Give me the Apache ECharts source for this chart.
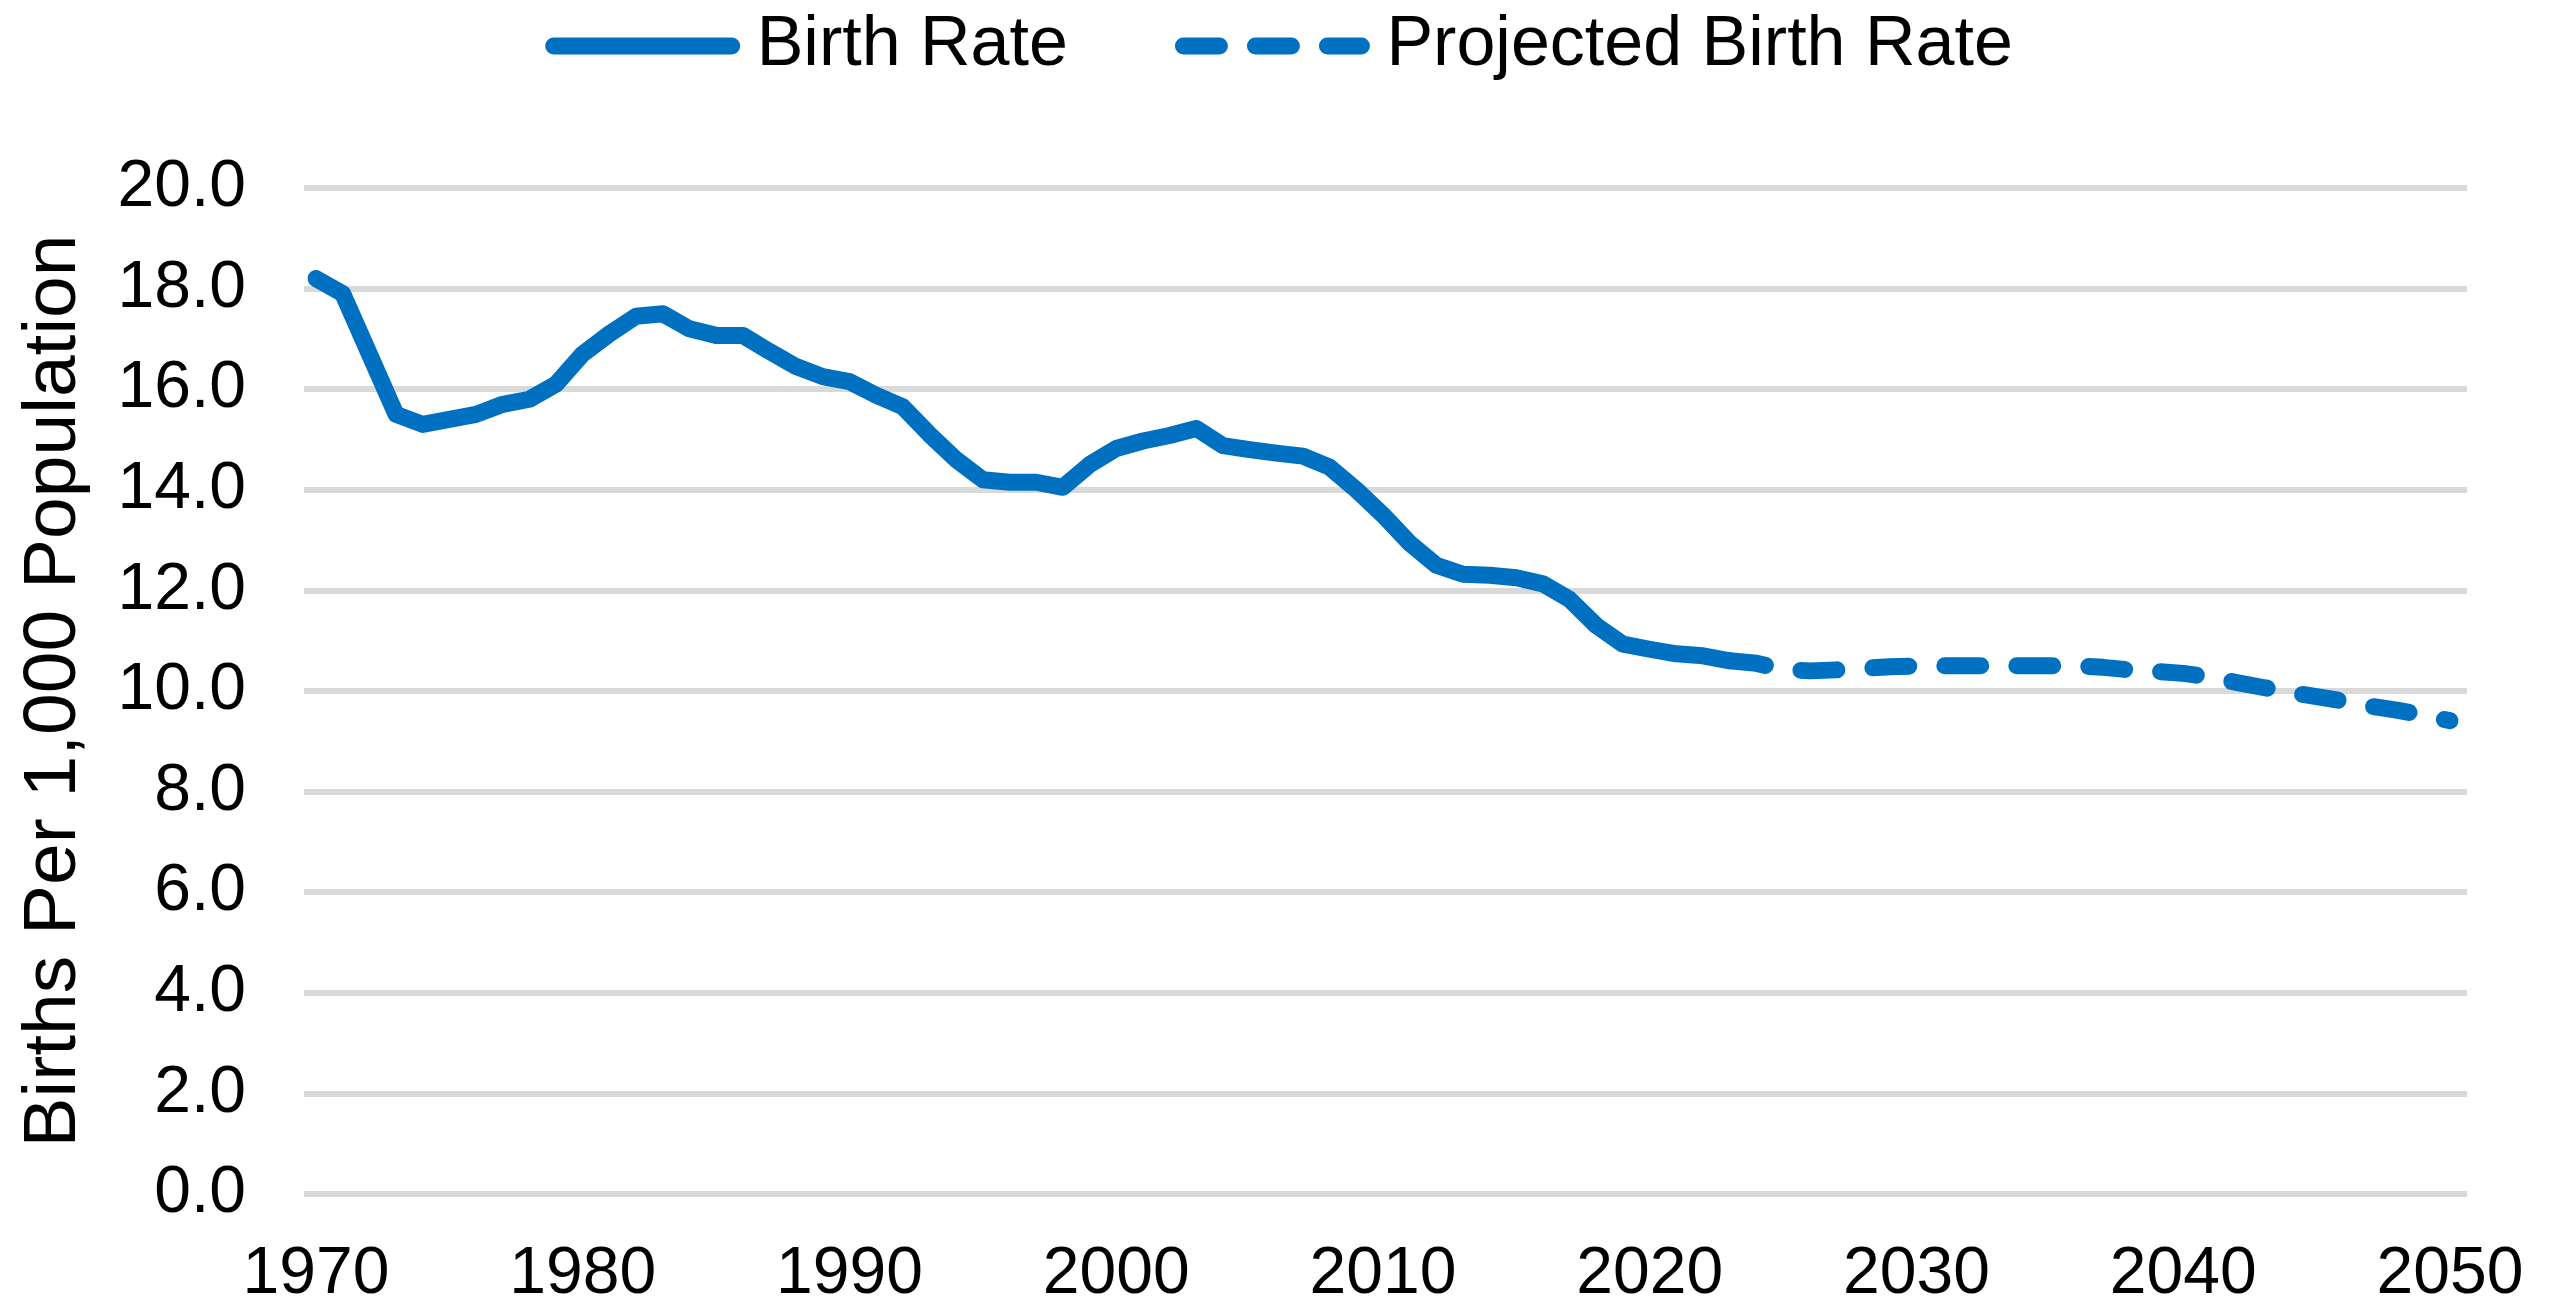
<!DOCTYPE html>
<html>
<head>
<meta charset="utf-8">
<style>
html,body{margin:0;padding:0;background:#fff;}
#chart{width:2558px;height:1308px;}
</style>
<script src="https://cdn.jsdelivr.net/npm/echarts@6/dist/echarts.min.js"></script>
</head>
<body>
<div id="chart"></div>
<script>
var actualYears = [1970,1971,1972,1973,1974,1975,1976,1977,1978,1979,1980,1981,1982,1983,1984,1985,1986,1987,1988,1989,1990,1991,1992,1993,1994,1995,1996,1997,1998,1999,2000,2001,2002,2003,2004,2005,2006,2007,2008,2009,2010,2011,2012,2013,2014,2015,2016,2017,2018,2019,2020,2021,2022,2023];
var birthRate = [18.2,17.9,16.7,15.5,15.3,15.4,15.5,15.7,15.8,16.1,16.7,17.1,17.45,17.5,17.2,17.07,17.07,16.75,16.45,16.25,16.15,15.88,15.65,15.1,14.6,14.2,14.15,14.15,14.05,14.5,14.82,14.97,15.08,15.22,14.88,14.8,14.73,14.67,14.45,14.0,13.5,12.94,12.5,12.32,12.3,12.25,12.13,11.82,11.3,10.93,10.83,10.74,10.7,10.6];
var projYears = [2023,2024,2025,2026,2027,2028,2029,2030,2031,2032,2033,2034,2035,2036,2037,2038,2039,2040,2041,2042,2043,2044,2045,2046,2047,2048,2049,2050];
var projRate = [10.6,10.55,10.43,10.4,10.42,10.45,10.48,10.5,10.5,10.5,10.5,10.5,10.5,10.5,10.47,10.42,10.39,10.35,10.28,10.17,10.07,9.97,9.89,9.8,9.7,9.62,9.52,9.41];
var xTickLabels = [1970,1980,1990,2000,2010,2020,2030,2040,2050];
var yTicks = [0,2,4,6,8,10,12,14,16,18,20];

function pairs(xs, ys){ return xs.map(function(x,i){ return [x, ys[i]]; }); }

var FONT = '"Liberation Sans", Arial, sans-serif';
var BLUE = '#0070C0';
var chart = echarts.init(document.getElementById('chart'), null, {renderer:'canvas'});
chart.setOption({
  animation:false,
  backgroundColor:'#fff',
  legend:{
    top:6,
    left:'center',
    itemWidth:178,
    itemHeight:30,
    itemGap:107,
    itemStyle:{opacity:0},
    lineStyle:{width:17,cap:'round'},
    textStyle:{fontFamily:FONT,fontSize:70,color:'#000',padding:[0,0,0,20]},
    data:['Birth Rate','Projected Birth Rate']
  },
  grid:{left:304,right:2558-2467,top:188,bottom:1308-1198,containLabel:false},
  xAxis:{
    type:'value',
    min:1969.55,
    max:2050.64,
    splitLine:{show:false},
    axisLine:{show:false},
    axisTick:{show:false},
    axisLabel:{
      customValues:xTickLabels,
      formatter:function(v){return String(v);},
      fontFamily:FONT,fontSize:66,color:'#000',margin:48
    }
  },
  yAxis:{
    type:'value',
    min:yTicks[0],
    max:yTicks[yTicks.length-1],
    interval:2,
    name:'Births Per 1,000 Population',
    nameLocation:'middle',
    nameGap:212,
    nameTextStyle:{fontFamily:FONT,fontSize:75,color:'#000'},
    axisLine:{show:false},
    axisTick:{show:false},
    axisLabel:{fontFamily:FONT,fontSize:66,color:'#000',margin:58,formatter:function(v){return v.toFixed(1);}},
    splitLine:{show:true,lineStyle:{color:'#D9D9D9',width:6}}
  },
  series:[
    {name:'Birth Rate',type:'line',data:pairs(actualYears,birthRate),symbol:'none',
     lineStyle:{color:BLUE,width:17,cap:'round',join:'round'},itemStyle:{color:BLUE}},
    {name:'Projected Birth Rate',type:'line',data:pairs(projYears,projRate),symbol:'none',
     lineStyle:{color:BLUE,width:17,type:[36,36],cap:'round',join:'round'},itemStyle:{color:BLUE}}
  ]
});
</script>
</body>
</html>
